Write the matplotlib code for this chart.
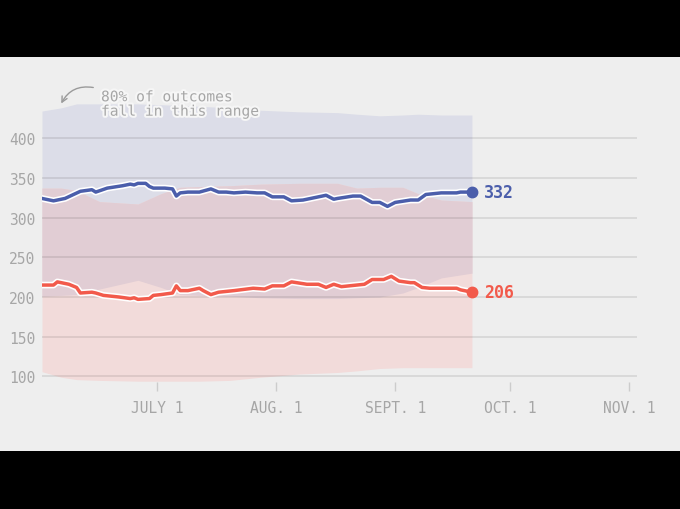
import numpy as np
import matplotlib
matplotlib.use("Agg")
import matplotlib.pyplot as plt
import matplotlib.patheffects as pe
from matplotlib.patches import Rectangle

# days counted from June 1, 2012
start = np.datetime64('2012-06-01')

blue_days = [0, 3, 6, 10, 13, 14, 17, 21, 23, 24, 25, 27, 28, 29, 32, 34, 35, 36, 38, 41,
             44, 46, 48, 50, 53, 56, 58, 60, 63, 65, 68, 72, 74, 76, 77, 81, 83, 86, 88, 90,
             92, 96, 98, 100, 104, 108, 109, 112]
blue_vals = [324, 321, 324, 333, 335, 332, 337, 340, 342, 341, 343, 343, 339, 337, 337, 336, 327, 331, 332, 332,
             336, 332, 332, 331, 332, 331, 331, 326, 326, 321, 322, 326, 328, 323, 324, 327, 327, 319, 319, 314,
             319, 322, 322, 329, 331, 331, 332, 332]

red_days = [0, 3, 4, 7, 9, 10, 13, 14, 16, 20, 23, 24, 25, 28, 29, 31, 34, 35, 36, 38,
            41, 42, 44, 46, 50, 55, 58, 60, 63, 65, 69, 72, 74, 76, 78, 82, 84, 86, 89, 91,
            93, 96, 97, 99, 101, 104, 108, 109, 112]
red_vals = [215, 215, 219, 216, 212, 205, 206, 205, 202, 200, 198, 199, 197, 198, 202, 203, 205, 214, 208, 208,
            211, 208, 203, 206, 208, 211, 210, 214, 214, 219, 216, 216, 212, 216, 213, 215, 216, 222, 222, 226,
            220, 218, 218, 212, 211, 211, 211, 209, 206]

# 80% ranges
band_days = [0, 5, 9, 15, 25, 31, 36, 41, 49, 57, 67, 77, 82, 88, 94, 98, 104, 112]
blue_hi = [434, 438, 443, 443, 443, 442, 441, 440, 438, 435, 433, 432, 430, 428, 429, 430, 429, 429]
blue_lo = [201, 202, 203, 210, 221, 212, 203, 202, 201, 199, 198, 198, 199, 200, 205, 212, 224, 230]
red_hi = [337, 337, 334, 320, 317, 330, 338, 339, 340, 342, 343, 343, 337, 338, 338, 330, 322, 320]
red_lo = [106, 99, 96, 95, 94, 94, 94, 94, 95, 99, 103, 105, 107, 110, 111, 111, 111, 111]

tick_days = [30, 61, 92, 122, 153]
tick_labels = ['JULY 1', 'AUG. 1', 'SEPT. 1', 'OCT. 1', 'NOV. 1']
y_ticks = [100, 150, 200, 250, 300, 350, 400]

BG = '#eeeeee'
GREY = '#a6a6a6'
BLUE = '#4b5eab'
RED = '#f25a4b'
MONO = 'DejaVu Sans Mono'

def to_dates(days):
    return start + np.array(days).astype('timedelta64[D]')

fig = plt.figure(figsize=(6.8, 5.1), dpi=100, facecolor='black')
fig.patches.append(Rectangle((0, 58 / 510), 1, (452 - 58) / 510, transform=fig.transFigure,
                             facecolor=BG, edgecolor='none', zorder=-10))

ax = fig.add_axes([42 / 680, 1 - 383.4 / 510, 595 / 680, (383.4 - 102.5) / 510])
ax.set_facecolor('none')

bd = to_dates(band_days)
bh, bl = np.array(blue_hi), np.array(blue_lo)
rh, rl = np.array(red_hi), np.array(red_lo)
ax.fill_between(bd, bl, bh, color='#dcdde8', lw=0, zorder=1)
ax.fill_between(bd, rl, rh, color='#f2dbda', lw=0, zorder=1.1)
ov_lo = np.maximum(bl, rl)
ov_hi = np.minimum(bh, rh)
ax.fill_between(bd, ov_lo, ov_hi, where=ov_hi > ov_lo, color='#e1cdd4', lw=0, zorder=1.2)

ax.set_axisbelow(False)
ax.grid(axis='y', color='black', alpha=0.1, lw=1.2)
ax.grid(axis='x', visible=False)

outline = [pe.Stroke(linewidth=4.8, foreground='white'), pe.Normal()]
bx = to_dates(blue_days)
rx = to_dates(red_days)
ax.plot(bx, blue_vals, color=BLUE, lw=2.5, zorder=4, path_effects=outline, solid_joinstyle='round')
ax.plot(rx, red_vals, color=RED, lw=2.5, zorder=4, path_effects=outline, solid_joinstyle='round')
ax.plot(bx[-1], blue_vals[-1], 'o', color=BLUE, ms=7.5, zorder=5)
ax.plot(rx[-1], red_vals[-1], 'o', color=RED, ms=7.5, zorder=5)
ax.annotate(str(blue_vals[-1]), (bx[-1], blue_vals[-1]), xytext=(9, 0), textcoords='offset points',
            va='center', ha='left', color=BLUE, fontsize=12, fontweight='bold', family=MONO)
ax.annotate(str(red_vals[-1]), (rx[-1], red_vals[-1]), xytext=(9, 0), textcoords='offset points',
            va='center', ha='left', color=RED, fontsize=12, fontweight='bold', family=MONO)

ax.set_xlim(start, start + np.timedelta64(155, 'D'))
ax.set_ylim(92.5, 446)
ax.set_yticks(y_ticks)
ax.set_yticklabels([str(v) for v in y_ticks], family=MONO, fontsize=10.5, color=GREY)
ax.set_xticks(to_dates(tick_days))
ax.set_xticklabels(tick_labels, family=MONO, fontsize=10.5, color=GREY)
ax.tick_params(axis='y', length=0, pad=5)
ax.tick_params(axis='x', length=6.5, width=1, color='#cccccc', pad=6)
for s in ax.spines.values():
    s.set_visible(False)

fig.text(101 / 680, 1 - 105 / 510, '80% of outcomes\nfall in this range', family=MONO,
         fontsize=10.5, color=GREY, va='center', ha='left', linespacing=0.95,
         path_effects=[pe.withStroke(linewidth=3, foreground='#f6f6f6')])
ax.annotate('', xy=(60 / 680, 1 - 107 / 510), xytext=(96 / 680, 1 - 89 / 510),
            xycoords='figure fraction', textcoords='figure fraction',
            arrowprops=dict(arrowstyle='->', color='#9a9a9a', lw=1,
                            connectionstyle='arc3,rad=0.4'))

fig.savefig('out.png', dpi=100, facecolor='black')
